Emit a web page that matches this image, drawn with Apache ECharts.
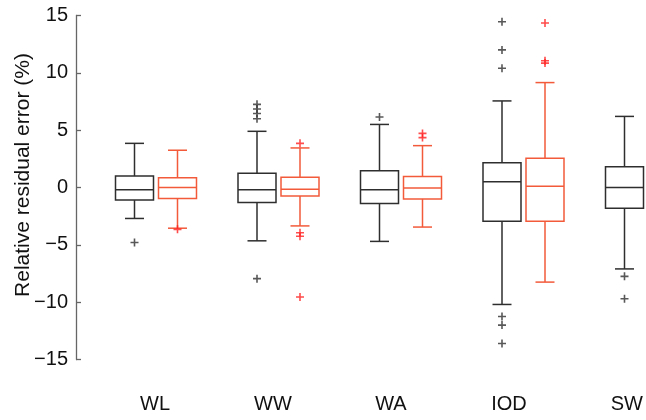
<!DOCTYPE html>
<html>
<head>
<meta charset="utf-8">
<script src="https://cdn.jsdelivr.net/npm/echarts@6/dist/echarts.min.js"></script>
<style>html,body{margin:0;padding:0;background:#fff;}#c{width:646px;height:420px;}</style>
</head>
<body>
<div id="c"></div>
<script>
// ---- data ----
const categories = ['WL', 'WW', 'WA', 'IOD', 'SW'];
// [min, Q1, median, Q3, max]
const blackBoxes = [
  [-2.7, -1.1, -0.2, 1.0, 3.85],
  [-4.65, -1.3, -0.2, 1.25, 4.9],
  [-4.7, -1.4, -0.2, 1.45, 5.5],
  [-10.2, -2.95, 0.5, 2.15, 7.55],
  [-7.1, -1.8, 0.0, 1.8, 6.2]
];
const redBoxes = [
  [-3.55, -0.95, 0.0, 0.85, 3.25],
  [-3.35, -0.75, -0.15, 0.9, 3.45],
  [-3.45, -1.0, -0.05, 0.95, 3.65],
  [-8.25, -2.95, 0.1, 2.55, 9.15]
];
// [category index, value]
const blackOutliers = [
  [0, -4.8],
  [1, 6.0], [1, 6.45], [1, 6.85], [1, 7.25], [1, -7.95],
  [2, 6.15],
  [3, 14.45], [3, 12.0], [3, 10.4], [3, -11.25], [3, -12.0], [3, -13.6],
  [4, -7.75], [4, -9.7]
];
const redOutliers = [
  [0, -3.65],
  [1, 3.85], [1, -3.95], [1, -4.25], [1, -9.55],
  [2, 4.35], [2, 4.72],
  [3, 14.35], [3, 10.85], [3, 11.05]
];
const yMin = -15, yMax = 15, yStep = 5;

// ---- styles ----
const BLACK = '#2e2e2e';
const RED_BOX = '#f25a3a';
const RED_PT = '#ff1f1f';
const PAIR_OFFSET = 21.5;
const HALF_BOX = 19;
const HALF_CAP = 9.5;
const PLUS = 'path://M4,0H6V4H10V6H6V10H4V6H0V4H4Z';
const FONT = 'Liberation Sans, Arial, sans-serif';

function boxRenderer(offset, color) {
  return function (params, api) {
    const idx = api.value(0);
    const x = api.coord([idx, 0])[0] + offset;
    const yv = [1, 2, 3, 4, 5].map(function (d) { return api.coord([idx, api.value(d)])[1]; });
    const yMinP = yv[0], yQ1 = yv[1], yMed = yv[2], yQ3 = yv[3], yMaxP = yv[4];
    const st = { stroke: color, lineWidth: 1.5, fill: 'none' };
    function line(x1, y1, x2, y2) {
      return { type: 'line', shape: { x1: x1, y1: y1, x2: x2, y2: y2 }, style: st };
    }
    return {
      type: 'group',
      children: [
        { type: 'rect', shape: { x: x - HALF_BOX, y: yQ3, width: HALF_BOX * 2, height: yQ1 - yQ3 }, style: st },
        line(x - HALF_BOX, yMed, x + HALF_BOX, yMed),
        line(x, yQ3, x, yMaxP),
        line(x, yQ1, x, yMinP),
        line(x - HALF_CAP, yMaxP, x + HALF_CAP, yMaxP),
        line(x - HALF_CAP, yMinP, x + HALF_CAP, yMinP)
      ]
    };
  };
}

const blackData = blackBoxes.map(function (b, i) { return [i].concat(b); });
const redData = redBoxes.map(function (b, i) { return [i].concat(b); });

const chart = echarts.init(document.getElementById('c'), null, { renderer: 'canvas' });
chart.setOption({
  animation: false,
  backgroundColor: '#fff',
  grid: [
    { left: 156, right: 0, top: 15.5, bottom: 60.5 },
    { left: 155, right: 19, top: 15.5, bottom: 60.5 }
  ],
  xAxis: [
    { type: 'category', gridIndex: 0, data: categories, boundaryGap: false, axisLine: { show: false }, axisTick: { show: false }, axisLabel: { show: false }, splitLine: { show: false } },
    { type: 'category', gridIndex: 1, data: categories, boundaryGap: false, axisLine: { show: false }, axisTick: { show: false }, splitLine: { show: false },
      axisLabel: { color: '#111', fontSize: 20, fontFamily: FONT, margin: 35 } }
  ],
  yAxis: [
    { type: 'value', gridIndex: 0, min: yMin, max: yMax, interval: yStep, offset: 80,
      axisLine: { show: true, lineStyle: { color: '#666', width: 1.3 } },
      axisTick: { show: true, inside: true, length: 5, lineStyle: { color: '#666', width: 1.3 } },
      splitLine: { show: false },
      axisLabel: { color: '#111', fontSize: 20, margin: 8, fontFamily: FONT,
        formatter: function (v) { return v < 0 ? '\u2212' + Math.abs(v) : String(v); } } },
    { type: 'value', gridIndex: 1, min: yMin, max: yMax, interval: yStep, show: false }
  ],
  graphic: [{
    type: 'text', x: 23, y: 175, rotation: Math.PI / 2,
    style: { text: 'Relative residual error (%)', fill: '#111', fontSize: 21, fontFamily: FONT, align: 'center', verticalAlign: 'middle' }
  }],
  series: [
    { type: 'custom', name: 'black', xAxisIndex: 0, yAxisIndex: 0, data: blackData, encode: { x: 0, y: [1, 2, 3, 4, 5] }, renderItem: boxRenderer(-PAIR_OFFSET, BLACK), clip: false, silent: true },
    { type: 'custom', name: 'red', xAxisIndex: 0, yAxisIndex: 0, data: redData, encode: { x: 0, y: [1, 2, 3, 4, 5] }, renderItem: boxRenderer(PAIR_OFFSET, RED_BOX), clip: false, silent: true },
    { type: 'scatter', xAxisIndex: 0, yAxisIndex: 0, data: blackOutliers, symbol: PLUS, symbolSize: 8, symbolOffset: [-PAIR_OFFSET, 0], itemStyle: { color: BLACK }, clip: false, silent: true },
    { type: 'scatter', xAxisIndex: 0, yAxisIndex: 0, data: redOutliers, symbol: PLUS, symbolSize: 8, symbolOffset: [PAIR_OFFSET, 0], itemStyle: { color: RED_PT }, clip: false, silent: true }
  ]
});
</script>
</body>
</html>
